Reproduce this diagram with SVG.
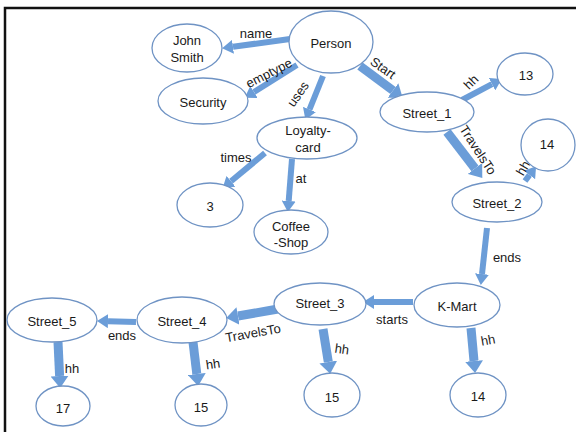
<svg xmlns="http://www.w3.org/2000/svg" width="576" height="432" viewBox="0 0 576 432">
<style>
.n ellipse{fill:#fff;stroke:#6f93c4;stroke-width:1.3}
text{font-family:"Liberation Sans",Arial,sans-serif;font-size:13px;fill:#1a1a1a;text-anchor:middle;dominant-baseline:central}
.c path{fill:none;stroke:#6b9dd8;stroke-width:6;stroke-linecap:butt;marker-end:url(#ah)}
.c path.t{stroke-width:9;marker-end:url(#ahb)}
</style>
<defs>
<marker id="ah" markerUnits="userSpaceOnUse" markerWidth="11" markerHeight="14" viewBox="0 -7 11 14" refX="0" refY="0" orient="auto"><path d="M0,-7 L11,0 L0,7 z" fill="#6b9dd8"/></marker>
<marker id="ahb" markerUnits="userSpaceOnUse" markerWidth="12" markerHeight="18" viewBox="0 -9 12 18" refX="0" refY="0" orient="auto"><path d="M0,-9 L12,0 L0,9 z" fill="#6b9dd8"/></marker>
</defs>
<rect width="576" height="432" fill="#fff"/>
<path d="M5,432 V8 H576" fill="none" stroke="#111" stroke-width="2.5"/>
<g class="c" id="connectors">
<path d="M290,39 L233,46.8"/>
<path d="M297,65 L254,92"/>
<path d="M323,76 L309.5,109.5"/>
<path class="t" d="M360,66 L393,90.5"/>
<path d="M462,100 L492,84.2"/>
<path class="t" d="M447,132 L475,168.5"/>
<path d="M525,181 L529.5,175"/>
<path d="M487,228 L482,274"/>
<path d="M413,302 L374,302"/>
<path class="t" d="M471,328 L474,361"/>
<path class="t" d="M323,329 L328.3,362"/>
<path class="t" d="M278,309 L238,316"/>
<path d="M136,322 L108,321.2"/>
<path class="t" d="M58,342 L59.6,376"/>
<path class="t" d="M193,342 L196.8,374"/>
<path d="M265,153 L231,181.3"/>
<path d="M292,159 L288.7,201"/>
</g>
<g id="labels">
<text x="256" y="33">name</text>
<text x="269" y="73" transform="rotate(-27 269 73)">emptype</text>
<text x="298" y="94" transform="rotate(-55 298 94)">uses</text>
<text x="383" y="68" transform="rotate(35 383 68)">Start</text>
<text x="471" y="82" transform="rotate(-45 471 82)">hh</text>
<text x="478" y="150" transform="rotate(57 478 150)">TravelsTo</text>
<text x="523" y="168" transform="rotate(-60 523 168)">hh</text>
<text x="507" y="257">ends</text>
<text x="392" y="319">starts</text>
<text x="488" y="340" transform="rotate(-10 488 340)">hh</text>
<text x="342" y="349" transform="rotate(8 342 349)">hh</text>
<text x="253" y="333" transform="rotate(-10 253 333)">TravelsTo</text>
<text x="122" y="335">ends</text>
<text x="72" y="368">hh</text>
<text x="213" y="364" transform="rotate(-8 213 364)">hh</text>
<text x="236" y="157">times</text>
<text x="301" y="178">at</text>
</g>
<g class="n" id="person"><ellipse cx="331" cy="42" rx="42" ry="31"/><text x="331" y="43">Person</text></g>
<g class="n" id="johnsmith"><ellipse cx="187" cy="48" rx="35" ry="24"/><text x="187" y="40">John</text><text x="187" y="57">Smith</text></g>
<g class="n" id="security"><ellipse cx="203" cy="101" rx="45" ry="23"/><text x="203" y="102">Security</text></g>
<g class="n" id="loyaltycard"><ellipse cx="307" cy="138" rx="50" ry="21"/><text x="308" y="130">Loyalty-</text><text x="308" y="147">card</text></g>
<g class="n" id="three"><ellipse cx="210" cy="205" rx="33" ry="22"/><text x="210" y="206">3</text></g>
<g class="n" id="coffeeshop"><ellipse cx="291" cy="232" rx="37" ry="22"/><text x="291" y="226">Coffee</text><text x="291" y="242">-Shop</text></g>
<g class="n" id="street1"><ellipse cx="427" cy="112" rx="47" ry="20"/><text x="427" y="113">Street_1</text></g>
<g class="n" id="n13"><ellipse cx="525" cy="74" rx="28" ry="21"/><text x="526" y="75">13</text></g>
<g class="n" id="n14a"><ellipse cx="548" cy="145" rx="27" ry="26"/><text x="547" y="144">14</text></g>
<g class="n" id="street2"><ellipse cx="497" cy="202" rx="45" ry="20"/><text x="497" y="203">Street_2</text></g>
<g class="n" id="kmart"><ellipse cx="457" cy="305" rx="43" ry="22"/><text x="457" y="306">K-Mart</text></g>
<g class="n" id="street3"><ellipse cx="320" cy="304" rx="46" ry="21"/><text x="320" y="303">Street_3</text></g>
<g class="n" id="n15a"><ellipse cx="332" cy="395" rx="28" ry="22"/><text x="332" y="397">15</text></g>
<g class="n" id="n14b"><ellipse cx="478" cy="395" rx="28" ry="22"/><text x="478" y="396">14</text></g>
<g class="n" id="street4"><ellipse cx="182" cy="320" rx="45" ry="23"/><text x="182" y="321">Street_4</text></g>
<g class="n" id="street5"><ellipse cx="52" cy="320" rx="45" ry="22"/><text x="52" y="321">Street_5</text></g>
<g class="n" id="n17"><ellipse cx="63" cy="406" rx="27" ry="20"/><text x="63" y="408">17</text></g>
<g class="n" id="n15b"><ellipse cx="201" cy="405" rx="26" ry="21"/><text x="201" y="407">15</text></g>
</svg>
